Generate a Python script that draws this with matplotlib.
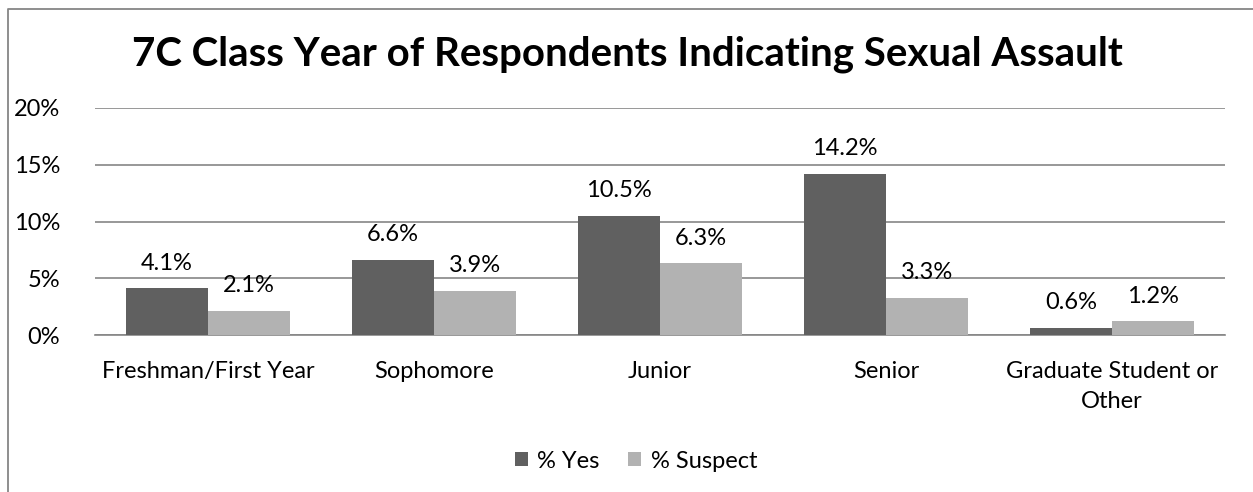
import matplotlib
matplotlib.use("Agg")
import matplotlib.pyplot as plt
from matplotlib.lines import Line2D
import numpy as np

categories = ["Freshman/First Year", "Sophomore", "Junior", "Senior", "Graduate Student or\nOther"]
yes_vals = [4.1, 6.6, 10.5, 14.2, 0.6]
suspect_vals = [2.1, 3.9, 6.3, 3.3, 1.2]
series_names = ["% Yes", "% Suspect"]
yticks = [0, 5, 10, 15, 20]
title = "7C Class Year of Respondents Indicating Sexual Assault"

W, H = 1253, 492
plt.rcParams['font.family'] = ['Lato', 'DejaVu Sans']
fig = plt.figure(figsize=(W / 100, H / 100), dpi=100)

FS = 17

# outer border (chart frame cropped at right and bottom)
fig.lines.append(Line2D([7.5 / W, 7.5 / W, 1.0], [0.0, 1 - 8.5 / H, 1 - 8.5 / H],
                        transform=fig.transFigure, color="#868686", linewidth=1.3))

ax = fig.add_axes([95 / W, 157 / H, 1130 / W, 227 / H])
x = np.arange(len(categories))
bw = 0.363
c_yes = "#606060"
c_sus = "#b2b2b2"
b1 = ax.bar(x - bw / 2, yes_vals, bw, color=c_yes, label=series_names[0], zorder=3)
b2 = ax.bar(x + bw / 2, suspect_vals, bw, color=c_sus, label=series_names[1], zorder=3)

for bars, vals in ((b1, yes_vals), (b2, suspect_vals)):
    for r, v in zip(bars, vals):
        ax.text(r.get_x() + r.get_width() / 2, v + 1.3, f"{v:.1f}%", ha="center", va="bottom",
                fontsize=FS, color="#000000", zorder=4)

ax.set_xlim(-0.5, len(categories) - 0.5)
ax.set_ylim(0, 20)
ax.set_yticks(yticks)
ax.set_yticklabels([f"{t}%" for t in yticks], fontsize=FS)
ax.set_xticks(x)
ax.set_xticklabels(categories, fontsize=FS, linespacing=1.5)
ax.tick_params(axis="both", length=0)
ax.tick_params(axis="y", pad=25)
ax.tick_params(axis="x", pad=19)
ax.yaxis.grid(True, color="#868686", linewidth=1.2, zorder=0)
for s in ("top", "right", "left"):
    ax.spines[s].set_visible(False)
ax.spines["bottom"].set_color("#868686")
ax.spines["bottom"].set_linewidth(1.2)

fig.text(627 / W, 1 - 54 / H, title, ha="center", va="center", fontsize=29, fontweight="bold")

fig.legend(handles=[b1, b2], labels=series_names, loc="center", bbox_to_anchor=(636 / W, 1 - 461 / H),
           ncol=2, frameon=False, fontsize=FS, handlelength=0.55, handleheight=0.55,
           columnspacing=1.2, handletextpad=0.4)

fig.savefig("out.png", dpi=100)
